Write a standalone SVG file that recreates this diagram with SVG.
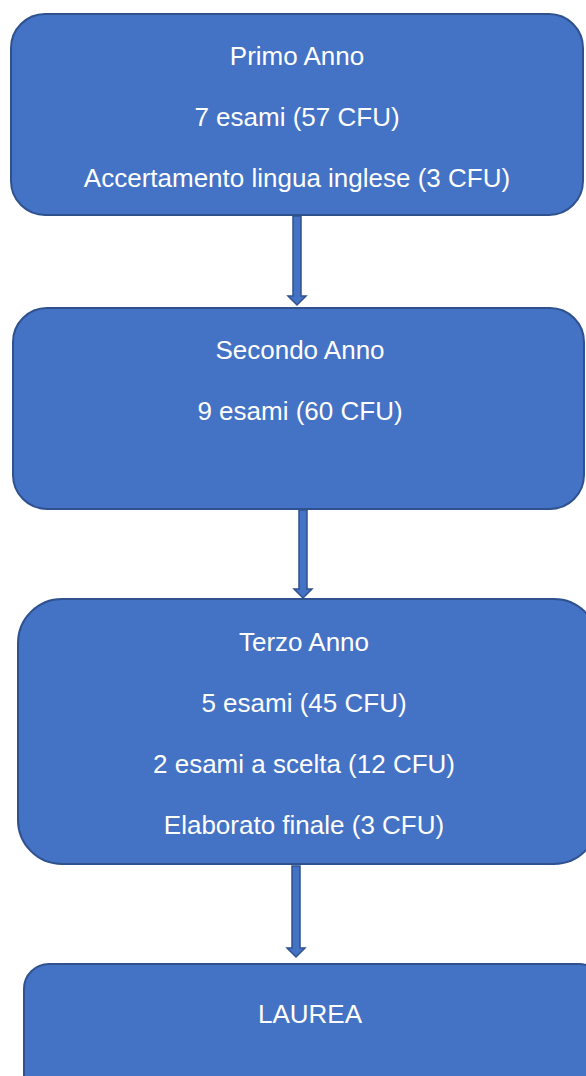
<svg xmlns="http://www.w3.org/2000/svg" width="586" height="1076" viewBox="0 0 586 1076">
<style>
.box{fill:#4472C4;stroke:#2F528F;stroke-width:2}
.arr{fill:#4472C4;stroke:#2F528F;stroke-width:1.5}
text{font-family:"Liberation Sans",Arial,sans-serif;font-size:26px;fill:#FFFFFF;text-anchor:middle}
</style>
<rect width="586" height="1076" fill="#FFFFFF"/>
<g id="connectors">
<path class="arr" d="M293 216 V296 H288 L297 305 L306 296 H301 V216 Z"/>
<path class="arr" d="M299 510 V589 H294 L303 598 L312 589 H307 V510 Z"/>
<path class="arr" d="M292 866 V948 H287 L296 957 L305 948 H300 V866 Z"/>
</g>
<g id="primo">
<rect class="box" x="11" y="14" width="572" height="201" rx="34"/>
<text x="297" y="65">Primo Anno</text>
<text x="297" y="126">7 esami (57 CFU)</text>
<text x="297" y="187">Accertamento lingua inglese (3 CFU)</text>
</g>
<g id="secondo">
<rect class="box" x="13" y="308" width="571" height="201" rx="34"/>
<text x="300" y="359">Secondo Anno</text>
<text x="300" y="420">9 esami (60 CFU)</text>
</g>
<g id="terzo">
<rect class="box" x="18" y="599" width="580" height="265" rx="44"/>
<text x="304" y="651">Terzo Anno</text>
<text x="304" y="712">5 esami (45 CFU)</text>
<text x="304" y="773">2 esami a scelta (12 CFU)</text>
<text x="304" y="834">Elaborato finale (3 CFU)</text>
</g>
<g id="laurea">
<rect class="box" x="24" y="964" width="580" height="140" rx="25"/>
<text x="310" y="1023">LAUREA</text>
</g>
</svg>
